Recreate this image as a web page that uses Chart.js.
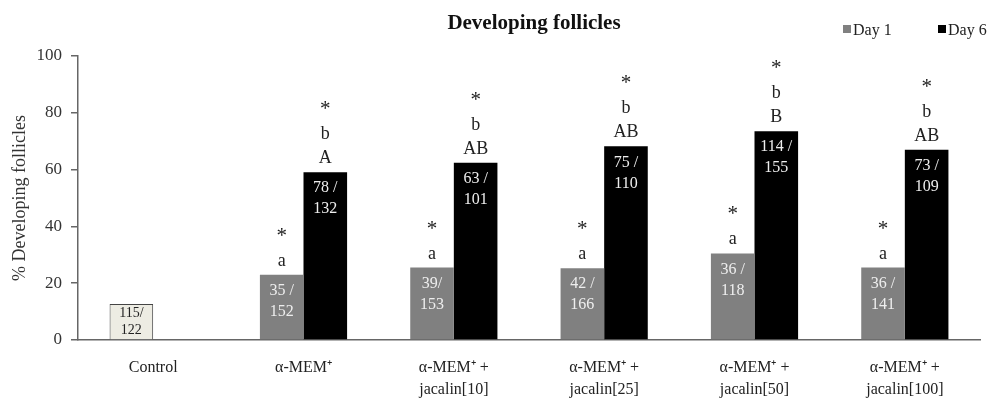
<!DOCTYPE html>
<html>
<head>
<meta charset="utf-8">
<script src="https://cdn.jsdelivr.net/npm/chart.js@4"></script>
<style>
  html, body { margin: 0; padding: 0; background: #fff; }
  #wrap { width: 1000px; height: 401px; }
</style>
</head>
<body>
<div id="wrap"><canvas id="chart" width="1000" height="401"></canvas></div>
<script>
// Treatment groups along the x axis
const categories = [
  ['Control'],
  ['α-MEM⁺'],
  ['α-MEM⁺ +', 'jacalin[10]'],
  ['α-MEM⁺ +', 'jacalin[25]'],
  ['α-MEM⁺ +', 'jacalin[50]'],
  ['α-MEM⁺ +', 'jacalin[100]']
];

// % developing follicles
const day1Values = [12.7, 23.0, 25.5, 25.3, 30.5, 25.5];
const day6Values = [null, 59.1, 62.4, 68.2, 73.5, 67.0];

// follicle counts printed inside the bars (n / total)
const day1Counts = [['115/', '122'], ['35 /', '152'], ['39/', '153'], ['42 /', '166'], ['36 /', '118'], ['36 /', '141']];
const day6Counts = [null, ['78 /', '132'], ['63 /', '101'], ['75 /', '110'], ['114 /', '155'], ['73 /', '109']];

// significance marks stacked above the bars, top line first
const day1Marks = [[], ['*', 'a'], ['*', 'a'], ['*', 'a'], ['*', 'a'], ['*', 'a']];
const day6Marks = [[], ['*', 'b', 'A'], ['*', 'b', 'AB'], ['*', 'b', 'AB'], ['*', 'b', 'B'], ['*', 'b', 'AB']];

const yTicks = [0, 20, 40, 60, 80, 100];

const seriesNames = ['Day 1', 'Day 6'];
const controlFill = '#edece3';
const day1Fill = '#808080';
const day6Fill = '#000000';

const SERIF = "'Liberation Serif', 'Times New Roman', serif";

// Labels on and above the bars
const barLabels = {
  id: 'barLabels',
  afterDatasetsDraw(chart) {
    const ctx = chart.ctx;
    const counts = [day1Counts, day6Counts];
    const marks = [day1Marks, day6Marks];
    ctx.save();
    ctx.textAlign = 'center';
    chart.data.datasets.forEach((ds, di) => {
      const meta = chart.getDatasetMeta(di);
      meta.data.forEach((bar, i) => {
        if (ds.data[i] == null) return;
        const top = bar.y;
        const c = counts[di][i];
        if (c) {
          ctx.textBaseline = 'middle';
          if (di === 0 && i === 0) {
            ctx.font = '14px ' + SERIF;
            ctx.fillStyle = '#222';
            ctx.fillText(c[0], bar.x, top + 9);
            ctx.fillText(c[1], bar.x, top + 26);
          } else {
            ctx.font = '16px ' + SERIF;
            ctx.fillStyle = '#eeeeee';
            ctx.fillText(c[0], bar.x, top + 16);
            ctx.fillText(c[1], bar.x, top + 37);
          }
        }
        const m = marks[di][i];
        ctx.textBaseline = 'alphabetic';
        ctx.fillStyle = '#222';
        for (let k = m.length - 1, line = 0; k >= 0; k--, line++) {
          const isStar = m[k] === '*';
          ctx.font = (isStar ? '21px ' : '18px ') + SERIF;
          ctx.fillText(m[k], bar.x, top - 9 - line * 24);
        }
      });
    });
    ctx.restore();
  }
};

// Chart heading and series key
const heading = {
  id: 'heading',
  afterDraw(chart) {
    const ctx = chart.ctx;
    ctx.save();
    ctx.fillStyle = '#111';
    ctx.textAlign = 'center';
    ctx.textBaseline = 'alphabetic';
    ctx.font = 'bold 21px ' + SERIF;
    ctx.fillText('Developing follicles', 534, 29);

    const key = [[843, day1Fill], [938, day6Fill]];
    ctx.font = '16px ' + SERIF;
    ctx.textAlign = 'left';
    key.forEach(([x, fill], k) => {
      ctx.fillStyle = fill;
      ctx.fillRect(x, 25, 8, 8);
      ctx.fillStyle = '#222';
      ctx.fillText(seriesNames[k], x + 10, 35);
    });
    ctx.restore();
  }
};

new Chart(document.getElementById('chart'), {
  type: 'bar',
  data: {
    labels: categories,
    datasets: [
      {
        label: seriesNames[0],
        data: day1Values,
        backgroundColor: day1Values.map((v, i) => i === 0 ? controlFill : day1Fill),
        borderColor: day1Values.map((v, i) => i === 0 ? '#444' : day1Fill),
        borderWidth: day1Values.map((v, i) => i === 0 ? 1 : 0),
        borderSkipped: 'bottom'
      },
      {
        label: seriesNames[1],
        data: day6Values,
        backgroundColor: day6Fill,
        borderWidth: 0
      }
    ]
  },
  options: {
    responsive: false,
    animation: false,
    devicePixelRatio: 1,
    categoryPercentage: 0.58,
    barPercentage: 1.0,
    layout: { padding: { top: 56, right: 20, left: 0, bottom: 0 } },
    plugins: {
      legend: { display: false },
      title: { display: false },
      tooltip: { enabled: false }
    },
    scales: {
      x: {
        grid: { display: false, drawTicks: false },
        border: { display: true, color: '#666', width: 1.5 },
        ticks: {
          font: { family: SERIF, size: 16, lineHeight: 1.38 },
          color: '#222',
          padding: 17,
          maxRotation: 0,
          autoSkip: false
        },
        afterFit(scale) { scale.height = 61; }
      },
      y: {
        min: 0,
        max: 100,
        afterBuildTicks(scale) { scale.ticks = yTicks.map(v => ({ value: v })); },
        grid: { drawOnChartArea: false, color: '#666', tickLength: 7, lineWidth: 1.5 },
        border: { display: true, color: '#666', width: 1.5 },
        ticks: {
          font: { family: SERIF, size: 17 },
          color: '#333',
          padding: 9
        },
        title: {
          display: true,
          text: '% Developing follicles',
          font: { family: SERIF, size: 18 },
          color: '#333',
          padding: { top: 9, bottom: 0 }
        },
        afterFit(scale) { scale.width = 78; }
      }
    }
  },
  plugins: [barLabels, heading]
});
</script>
</body>
</html>
